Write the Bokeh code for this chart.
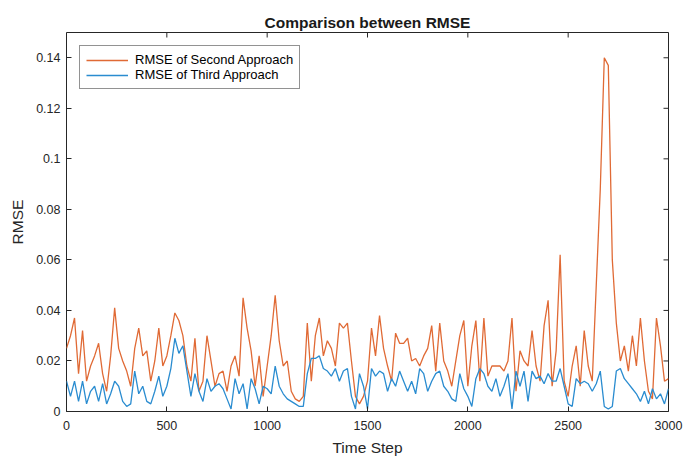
import math
from bokeh.plotting import figure
from bokeh.models import (FixedTicker, CustomJSTickFormatter, Legend,
                          LegendItem, Range1d)
from bokeh.embed import file_html
from bokeh.resources import INLINE

# ---------------- data ----------------
time_step = list(range(0, 3001, 20))

rmse_second = [
    .025, .030, .037, .015, .032, .012, .018, .022, .027, .015,
    .008, .022, .041, .025, .020, .016, .010, .025, .033, .022,
    .024, .012, .020, .033, .018, .022, .030, .039, .036, .030,
    .018, .012, .029, .008, .012, .030, .020, .010, .015, .016,
    .008, .018, .022, .014, .045, .033, .024, .010, .022, .006,
    .018, .030, .046, .028, .018, .020, .008, .005, .004, .006,
    .035, .012, .030, .037, .022, .028, .025, .018, .035, .033,
    .035, .020, .006, .003, .006, .012, .033, .022, .038, .025,
    .018, .012, .031, .027, .027, .029, .020, .021, .018, .022,
    .025, .034, .016, .035, .020, .016, .010, .020, .030, .036,
    .010, .026, .036, .012, .037, .014, .018, .018, .018, .016,
    .020, .037, .008, .024, .020, .018, .032, .018, .012, .034,
    .044, .010, .024, .062, .012, .006, .018, .026, .010, .032,
    .018, .012, .050, .088, .140, .137, .060, .035, .020, .026,
    .016, .030, .018, .037, .020, .008, .005, .037, .026, .012,
    .013,
]

rmse_third = [
    .012, .006, .012, .004, .012, .003, .008, .010, .004, .011,
    .003, .007, .012, .010, .004, .002, .003, .016, .007, .010,
    .004, .003, .008, .014, .006, .010, .017, .029, .023, .026,
    .016, .006, .015, .008, .004, .013, .008, .010, .011, .009,
    .005, .001, .013, .007, .011, .001, .013, .009, .003, .010,
    .009, .007, .018, .010, .007, .005, .004, .003, .002, .002,
    .015, .021, .021, .022, .017, .016, .014, .017, .012, .016,
    .017, .006, .001, .015, .010, .001, .017, .014, .016, .015,
    .008, .013, .010, .016, .012, .008, .012, .007, .017, .015,
    .008, .012, .015, .016, .010, .008, .005, .004, .015, .009,
    .006, .002, .013, .017, .015, .010, .008, .013, .006, .010,
    .015, .001, .016, .010, .016, .004, .016, .013, .014, .011,
    .015, .012, .012, .017, .010, .003, .002, .013, .011, .012,
    .011, .008, .011, .016, .002, .001, .002, .016, .017, .013,
    .011, .009, .007, .004, .008, .003, .009, .005, .007, .003,
    .009,
]

x_ticks = [0, 500, 1000, 1500, 2000, 2500, 3000]
y_ticks = [0, 0.02, 0.04, 0.06, 0.08, 0.10, 0.12, 0.14]
x_limits = (0, 3000)
y_limits = (0, 0.15)

series_labels = ["RMSE of Second Approach", "RMSE of Third Approach"]
series_colors = ["#E06A35", "#2A8CD0"]

FONT = "Liberation Sans"
TXT = "#262626"

# ---------------- figure ----------------
p = figure(width=691, height=459, output_backend="svg", toolbar_location=None,
           x_range=Range1d(*x_limits), y_range=Range1d(*y_limits),
           min_border_left=66, min_border_right=23, min_border_top=32,
           min_border_bottom=48, title="Comparison between RMSE")
p.background_fill_color = "white"
p.border_fill_color = "white"
p.outline_line_color = TXT
p.outline_line_width = 1
p.xgrid.visible = False
p.ygrid.visible = False

p.title.align = "center"
p.title.text_font = FONT
p.title.text_font_size = "15.5px"
p.title.text_font_style = "bold"
p.title.text_color = "#1a1a1a"
p.title.offset = 0
p.title.standoff = 4

yfmt = CustomJSTickFormatter(code="""
    if (Math.abs(tick) < 1e-9) return "0";
    return String(parseFloat(tick.toFixed(2)));
""")

for ax in p.xaxis:
    ax.ticker = FixedTicker(ticks=x_ticks)
for ax in p.yaxis:
    ax.ticker = FixedTicker(ticks=y_ticks)
    ax.formatter = yfmt

for ax in list(p.xaxis) + list(p.yaxis):
    ax.axis_line_color = None
    ax.major_tick_in = 5
    ax.major_tick_out = 0
    ax.minor_tick_line_color = None
    ax.major_tick_line_color = TXT
    ax.major_label_text_font = FONT
    ax.major_label_text_font_size = "12.5px"
    ax.major_label_text_color = TXT
    ax.axis_label_text_font = FONT
    ax.axis_label_text_font_size = "15.5px"
    ax.axis_label_text_font_style = "normal"
    ax.axis_label_text_color = TXT

p.xaxis.axis_label = "Time Step"
p.yaxis.axis_label = "RMSE"
p.xaxis.major_label_standoff = 9
p.xaxis.axis_label_standoff = 6
p.yaxis.major_label_standoff = 6
p.yaxis.axis_label_standoff = 7

# mirrored tick marks on the top and right edges (MATLAB box style)
p.ray(x=x_ticks, y=[y_limits[1]] * len(x_ticks), length=5, length_units="screen",
      angle=-math.pi / 2, line_color=TXT, line_width=1)
p.ray(x=[x_limits[1]] * len(y_ticks), y=y_ticks, length=5, length_units="screen",
      angle=math.pi, line_color=TXT, line_width=1)

r2 = p.line(time_step, rmse_second, line_color=series_colors[0], line_width=1.3)
r3 = p.line(time_step, rmse_third, line_color=series_colors[1], line_width=1.3)

legend = Legend(items=[LegendItem(label=series_labels[0], renderers=[r2]),
                       LegendItem(label=series_labels[1], renderers=[r3])],
                location="top_left")
legend.label_text_font = FONT
legend.label_text_font_size = "13px"
legend.label_text_color = "black"
legend.border_line_color = TXT
legend.border_line_width = 1
legend.background_fill_alpha = 1
legend.glyph_width = 42
legend.glyph_height = 14
legend.label_height = 14
legend.spacing = 0
legend.padding = 6
legend.margin = 13
legend.label_standoff = 7
p.add_layout(legend)

open("out.html", "w").write(file_html(p, INLINE))
